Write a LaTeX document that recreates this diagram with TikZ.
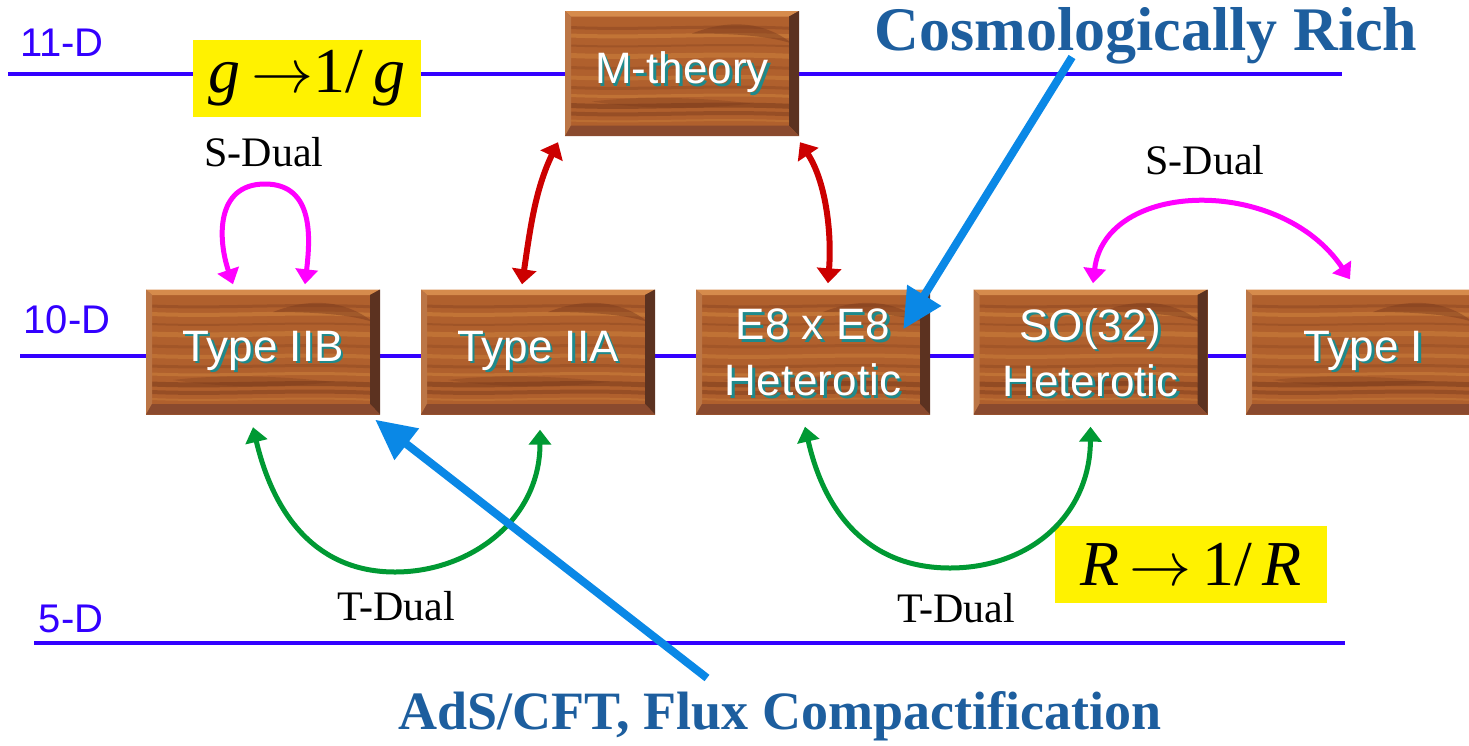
\documentclass[tikz,border=0pt]{standalone}
\usepackage{fontspec}
\setmainfont{Liberation Serif}
\newfontfamily\sansfont{Liberation Sans}
\usetikzlibrary{arrows.meta}

\definecolor{dimblue}{HTML}{3300FF}
\definecolor{woodbase}{HTML}{B0602D}
\definecolor{woodlight}{HTML}{D68B4C}
\definecolor{woodleft}{HTML}{BC7646}
\definecolor{woodright}{HTML}{5C3220}
\definecolor{woodbottom}{HTML}{8A4A2E}
\definecolor{wooddark}{HTML}{7A3A1C}
\definecolor{woodpale}{HTML}{D4893F}
\definecolor{labelteal}{HTML}{1E8A8C}
\definecolor{sdual}{HTML}{FF00FF}
\definecolor{mlink}{HTML}{CC0000}
\definecolor{tdual}{HTML}{009933}
\definecolor{pointer}{HTML}{0A88E6}
\definecolor{headline}{HTML}{1D5E9E}

% white lettering with a teal drop shadow, as carved into the wood
\newcommand\carved[1]{\leavevmode\rlap{\kern2.5pt\raisebox{-2.5pt}{\color{labelteal}#1}}\textcolor{white}{#1}}
% long arrow for the duality maps (a 10pt arrow, enlarged)
\newcommand\maparrow{\scalebox{6.2}{\fontsize{10}{10}\selectfont$\rightarrow$}}

\tikzset{
  level/.style={dimblue, line width=4pt},
  levellabel/.style={text=dimblue, font=\sansfont\fontsize{40}{40}\selectfont, inner sep=0pt},
  formula/.style={fill=yellow, inner sep=0pt, font=\fontsize{64}{70}\selectfont},
  dual/.style={font=\fontsize{42}{42}\selectfont, inner sep=0pt},
  headtext/.style={text=headline, font=\bfseries\fontsize{#1}{#1}\selectfont, inner sep=0pt},
  woodbox/.style={minimum width=234pt, minimum height=125pt, inner sep=0pt,
    align=center, font=\sansfont\fontsize{44}{56}\selectfont},
  % a bevelled wooden plaque, 234 x 125, centred on the pic position
  wood/.pic={
    \fill[woodbase] (-117,-62.5) rectangle (117,62.5);
    \begin{scope}
      \clip (-117,-62.5) rectangle (117,62.5);
      \foreach \yy/\cc/\oo/\ww in {-46/wooddark/0.35/3, -38/woodpale/0.5/4, -28/wooddark/0.3/2,
          -18/woodpale/0.45/5, -6/wooddark/0.25/3, 4/woodpale/0.4/4, 14/wooddark/0.3/3,
          22/woodpale/0.45/3, 32/wooddark/0.55/5, 40/wooddark/0.45/4, 47/woodpale/0.35/2}
        \draw[\cc, opacity=\oo, line width=\ww pt]
          (-112,\yy) .. controls (-40,\yy+3) and (30,\yy-3) .. (112,\yy+1);
      \fill[wooddark, opacity=0.45] (10,-40) .. controls (50,-56) and (85,-50) .. (110,-30)
        .. controls (85,-38) and (50,-40) .. (10,-40) -- cycle;
      \fill[wooddark, opacity=0.3] (-90,28) .. controls (-40,22) and (20,24) .. (70,30)
        .. controls (20,36) and (-40,36) .. (-90,28) -- cycle;
    \end{scope}
    \fill[woodlight] (-117,-62.5) -- (117,-62.5) -- (107,-57) -- (-111,-57) -- cycle;
    \fill[woodleft] (-117,-62.5) -- (-111,-57) -- (-111,52) -- (-117,62.5) -- cycle;
    \fill[woodright] (117,-62.5) -- (117,62.5) -- (107,52) -- (107,-57) -- cycle;
    \fill[woodbottom] (-117,62.5) -- (117,62.5) -- (107,52) -- (-111,52) -- cycle;
  },
  sarrow/.style={sdual, line width=5pt, {Triangle[length=15pt,width=22pt]}-{Triangle[length=15pt,width=22pt]}},
  marrow/.style={mlink, line width=6pt, {Triangle[length=15pt,width=24pt]}-{Triangle[length=15pt,width=24pt]}},
  tarrow/.style={tdual, line width=5pt, {Triangle[length=15pt,width=22pt]}-{Triangle[length=15pt,width=22pt]}},
  parrow/.style={pointer, line width=8pt, -{Triangle[length=40pt,width=38pt]}},
}

\begin{document}
\begin{tikzpicture}[x=1pt, y=-1pt]
\useasboundingbox (0,0) rectangle (1469,745);
\clip (0,0) rectangle (1469,745);

% dimension levels
\draw[level] (8,74) -- (1342,74);
\draw[level] (20,356) -- (1246,356);
\draw[level] (34,643) -- (1345,643);
\node[levellabel] (d11) at (62,43) {11-D};
\node[levellabel] (d10) at (67,320) {10-D};
\node[levellabel] (d5) at (71,619) {5-D};

% duality maps
\node[formula, minimum width=228pt, minimum height=77pt] (gmap) at (307,78.5)
  {\textit{g}\,\maparrow1/\,\textit{g}};
\node[formula, minimum width=272pt, minimum height=77pt] (rmap) at (1191,564.5)
  {\textit{R}\,\maparrow\,1/\,\textit{R}};

% theories
\foreach \cx/\cy in {682/73.5, 263/352, 538/352, 813/352, 1090.5/352, 1363/352}
  \pic at (\cx,\cy) {wood};
\node[woodbox] (mth) at (682,73.5) {\carved{M-theory}};
\node[woodbox] (iib) at (263,352) {\carved{Type IIB}};
\node[woodbox] (iia) at (538,352) {\carved{Type IIA}};
\node[woodbox] (e8) at (813,354) {\carved{E8 x E8}\\\carved{Heterotic}};
\node[woodbox] (so) at (1090.5,354) {\carved{SO(32)}\\\carved{Heterotic}};
\node[woodbox] (ti) at (1363,352) {\carved{Type I}};

% S-duality
\node[dual] (sdl) at (264,152) {S-Dual};
\node[dual] (sdr) at (1205,160) {S-Dual};
\draw[sarrow] ([shift={(-30,-5)}]iib.north) .. controls (218,240) and (215,184) .. (265,184)
  .. controls (315,184) and (310,240) .. ([shift={(42,-5)}]iib.north);
\draw[sarrow] ([shift={(2.5,-8)}]so.north) .. controls (1105,180) and (1280,175)
  .. ([shift={(-13,-10)}]ti.north);

% M-theory links
\draw[marrow] ([shift={(-16,-5)}]iia.north) .. controls (530,230) and (535,190)
  .. ([shift={(-124,6)}]mth.south);
\draw[marrow] ([shift={(118,6)}]mth.south) .. controls (825,180) and (832,230)
  .. ([shift={(15,-8)}]e8.north);

% T-duality
\node[dual] (tdl) at (396,606) {T-Dual};
\node[dual] (tdr) at (956,608) {T-Dual};
\draw[tarrow] ([shift={(-10,12.5)}]iib.south) .. controls (275,520) and (320,572) .. (395,572)
  .. controls (470,572) and (540,520) .. ([shift={(2,15)}]iia.south);
\draw[tarrow] ([shift={(-8,10)}]e8.south) .. controls (825,515) and (870,568) .. (950,568)
  .. controls (1030,568) and (1090,515) .. ([shift={(0,10)}]so.south);

% highlights
\node[headtext=62] (rich) at (1146,36) {Cosmologically Rich};
\node[headtext=54] (ads) at (780,716) {AdS/CFT, Flux Compactification};
\coordinate (richtail) at (1072,57);
\coordinate (adstail) at (707,678);
\draw[parrow] (richtail) -- ([shift={(-27,38)}]e8.north east);
\draw[parrow] (adstail) -- ([shift={(-5,5)}]iib.south east);
\end{tikzpicture}
\end{document}
